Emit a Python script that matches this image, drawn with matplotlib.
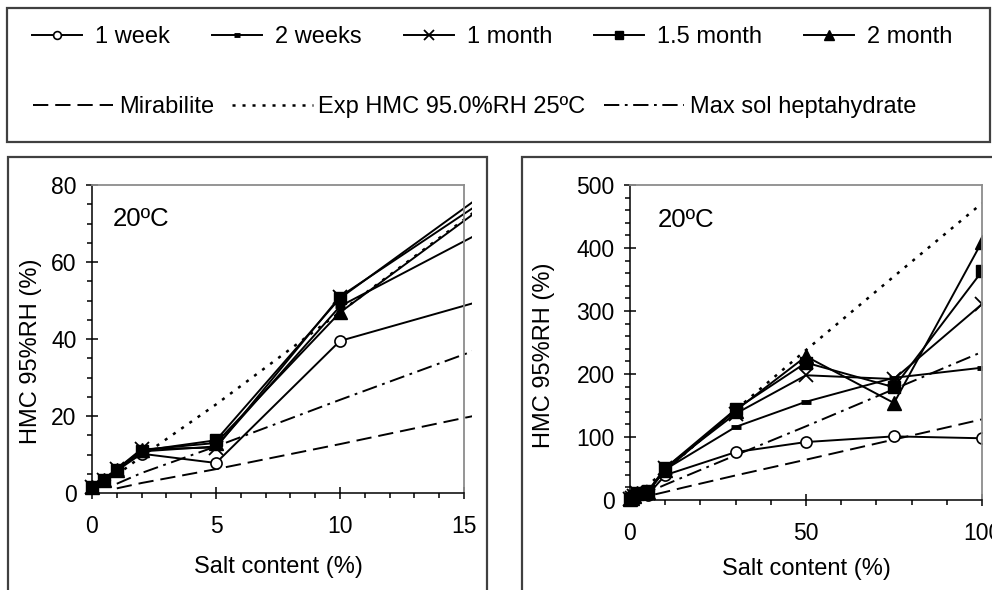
import matplotlib
matplotlib.use('Agg')
import matplotlib.pyplot as plt
from matplotlib.patches import Rectangle
from matplotlib.ticker import MultipleLocator

plt.rcParams['font.family'] = ['Liberation Sans', 'DejaVu Sans']
plt.rcParams['lines.scale_dashes'] = False

# salt content (%) of the samples
salt = [0, 0.5, 1, 2, 5, 10, 30, 50, 75, 100]

# HMC at 95%RH (%) after each exposure time
hmc_1week = [1.5, 3.0, 5.8, 10.2, 7.8, 39.5, 76, 92, 101, 98]
hmc_2weeks = [1.5, 3.2, 6.0, 10.8, 12.1, 48.5, 116, 156, 194, 210]
hmc_1month = [1.5, 3.5, 6.2, 11.4, 11.8, 51.0, 137, 198, 192, 311]
hmc_15month = [1.5, 3.3, 6.0, 11.0, 13.7, 50.6, 144, 218, 179, 363]
hmc_2month = [1.5, 3.3, 6.0, 11.2, 13.0, 46.9, 142, 228, 154, 410]

# reference curves
ref_salt = [1, 2, 5, 10, 15, 30, 50, 75, 100]
mirabilite = [1.2, 2.6, 6.2, 12.7, 19.5, 39, 64, 96, 128]
heptahydrate = [2.4, 5.2, 12.1, 24.2, 36, 71, 117, 176, 235]
exp_salt = [0, 1, 2, 5, 10, 15, 30, 50, 75, 100]
exp_hmc = [0, 4.7, 9.5, 23, 47, 71, 143, 238, 355, 471]

W, H = 992, 590
fig = plt.figure(figsize=(W / 100, H / 100), dpi=100)


def px_box(x0, y0, x1, y1):
    # pixel box (top-left origin) -> figure fraction rect
    return [x0 / W, 1 - y1 / H, (x1 - x0) / W, (y1 - y0) / H]


ax_l = fig.add_axes(px_box(92, 185, 464, 493))
ax_r = fig.add_axes(px_box(630, 185, 982, 500))

series_style = [
    dict(marker='o', ms=8, mfc='white', mec='black', mew=1.2),
    dict(marker='_', ms=6.5, mec='black', mew=3.5),
    dict(marker='x', ms=9.5, mec='black', mew=1.3),
    dict(marker='s', ms=8.5, mfc='black', mec='black'),
    dict(marker='^', ms=9.5, mfc='black', mec='black'),
]
series_vals = [hmc_1week, hmc_2weeks, hmc_1month, hmc_15month, hmc_2month]
series_names = ['1 week', '2 weeks', '1 month', '1.5 month', '2 month']


def draw_panel(ax, xmax, ymax, xmaj, xmin, ymaj, ymin, clip_right):
    clip = Rectangle((-0.05, -0.05), 1.05 + clip_right, 1.1,
                     transform=ax.transAxes)
    refs = []
    refs += ax.plot(ref_salt, mirabilite, color='black', lw=1.4,
                    ls=(0, (11, 5)))
    refs += ax.plot(exp_salt, exp_hmc, color='black', lw=1.8,
                    ls=(0, (2.2, 5)))
    refs += ax.plot(ref_salt, heptahydrate, color='black', lw=1.4,
                    ls=(0, (11, 4, 2, 4)))
    lines = []
    for vals, st in zip(series_vals, series_style):
        lines += ax.plot(salt, vals, color='black', lw=1.4, **st)
    for ln in refs + lines:
        ln.set_clip_path(clip)

    ax.set_xlim(0, xmax)
    ax.set_ylim(0, ymax)
    ax.xaxis.set_major_locator(MultipleLocator(xmaj))
    ax.xaxis.set_minor_locator(MultipleLocator(xmin))
    ax.yaxis.set_major_locator(MultipleLocator(ymaj))
    ax.yaxis.set_minor_locator(MultipleLocator(ymin))
    ax.tick_params(which='major', direction='inout', length=8, width=1.1,
                   labelsize=16.5)
    ax.tick_params(which='minor', direction='out', length=3.6, width=1.1)
    ax.tick_params(axis='x', which='major', pad=12)
    ax.tick_params(axis='y', which='major', pad=7)
    for side in ('top', 'right'):
        ax.spines[side].set_color('#8c8c8c')
        ax.spines[side].set_linewidth(1.3)
    for side in ('left', 'bottom'):
        ax.spines[side].set_linewidth(1.1)
    ax.text(0.055, 0.89, '20ºC', transform=ax.transAxes, fontsize=18.5,
            va='center', ha='left')
    return lines, refs


lines, refs = draw_panel(ax_l, 15, 80, 5, 1, 20, 5, 0.022)
draw_panel(ax_r, 100, 500, 50, 10, 100, 20, 0.0)
ax_r.texts[0].set_x(0.08)

ax_l.set_xlabel('Salt content (%)', fontsize=17, va='center')
ax_l.xaxis.set_label_coords(0.5, -0.24)
ax_l.set_ylabel('HMC 95%RH (%)', fontsize=17, va='center')
ax_l.yaxis.set_label_coords(-0.164, 0.46)

ax_r.set_xlabel('Salt content (%)', fontsize=17, va='center')
ax_r.xaxis.set_label_coords(0.5, -0.22)
ax_r.set_ylabel('HMC 95%RH (%)', fontsize=17, va='center')
ax_r.yaxis.set_label_coords(-0.244, 0.46)

# frames around the legend and the two panels
frame_kw = dict(transform=fig.transFigure, fill=False, ec='#404040', lw=1.6)
for box in (px_box(7, 8, 990, 142), px_box(8, 157, 487, 620),
            px_box(522, 157, 1010, 620)):
    fig.add_artist(Rectangle((box[0], box[1]), box[2], box[3], **frame_kw))

fig.legend(lines, series_names, loc='center left',
           bbox_to_anchor=(32 / W, 1 - 37 / H), ncol=5, frameon=False,
           fontsize=17, handlelength=2.12, handletextpad=0.55,
           columnspacing=1.78, borderpad=0, borderaxespad=0, markerscale=0.7)
fig.legend(refs, ['Mirabilite', 'Exp HMC 95.0%RH 25ºC',
                  'Max sol heptahydrate'],
           loc='center left', bbox_to_anchor=(33 / W, 1 - 107 / H), ncol=3,
           frameon=False, fontsize=17, handlelength=3.4, handletextpad=0.25,
           columnspacing=0.76, borderpad=0, borderaxespad=0)

fig.savefig('out.png', dpi=100)
